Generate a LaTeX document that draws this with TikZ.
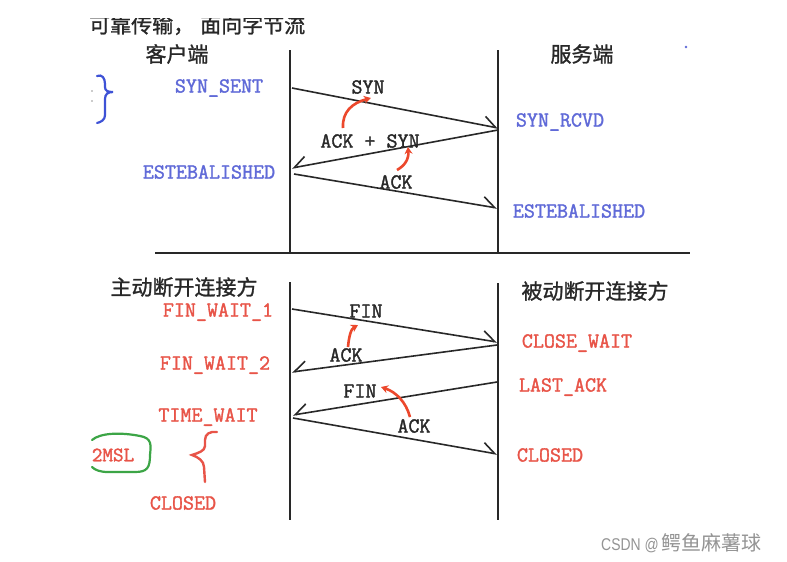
\documentclass[tikz,border=0pt]{standalone}
\usepackage{fontspec}
\usetikzlibrary{arrows.meta}
\newfontfamily\cjk[FakeBold=1.2]{Noto Sans CJK SC}
\newfontfamily\cjkwm{Noto Sans CJK SC}
\newfontfamily\lab[FakeBold=1.6]{Latin Modern Mono}
\newfontfamily\wmfont[FakeStretch=0.82]{Liberation Sans}
\definecolor{lblue}{RGB}{96,106,216}
\definecolor{lred}{RGB}{232,84,72}
\definecolor{arred}{RGB}{236,72,44}
\definecolor{bracebl}{RGB}{62,82,214}
\definecolor{loopgr}{RGB}{60,165,70}
\definecolor{ink}{RGB}{40,40,40}
\tikzset{
  lbl/.style={font=\lab\fontsize{21.4}{21.4}\selectfont, inner sep=0pt},
  blu/.style={lbl, text=lblue},
  rd/.style={lbl, text=lred},
  msg/.style={lbl, text=ink},
  head/.style={font=\cjk\fontsize{21}{21}\selectfont, text=ink, inner sep=0pt},
  life/.style={draw=ink, line width=1.8pt},
  msgR/.style={draw=ink, line width=1.6pt, -{Straight Barb[harpoon,length=12pt,width=18pt,line width=1.6pt]}},
  msgL/.style={draw=ink, line width=1.6pt, -{Straight Barb[harpoon,swap,length=12pt,width=18pt,line width=1.6pt]}},
  redarr/.style={draw=arred, line width=2.6pt, -{Stealth[length=7pt,width=8pt]}},
}
\begin{document}
\begin{tikzpicture}[x=1pt,y=-1pt]
\useasboundingbox (0,0) rectangle (787,562);
\fill[white] (0,0) rectangle (787,562);

% cut-off top line of text
\node[head, font=\cjk\fontsize{21}{21}\selectfont, anchor=west] (toptext) at (89,25) {可靠传输，\hspace{6pt}面向字节流};
\fill[white] (0,0) rectangle (787,18);

% lifelines
\coordinate (cT) at (290,50);  \coordinate (cB) at (290,253);
\coordinate (sT) at (498,50);  \coordinate (sB) at (498,253);
\coordinate (cT2) at (290,282); \coordinate (cB2) at (290,520);
\coordinate (sT2) at (498,283); \coordinate (sB2) at (498,520);
\coordinate (hL) at (155,253); \coordinate (hR) at (690,253);
\draw[life] (cT) -- (cB);
\draw[life] (sT) -- (sB);
\draw[life] (cT2) -- (cB2);
\draw[life] (sT2) -- (sB2);
\draw[life] (hL) -- (hR);

% headings
\node[head] (client) at (177,54) {客户端};
\node[head] (server) at (582,54) {服务端};
\node[head] (active) at (184,287) {主动断开连接方};
\node[head] (passive) at (595,291) {被动断开连接方};
\fill[lblue] (686,47) circle (1.4);

% top states
\node[blu] (synsent) at (219,88) {SYN\_SENT};
\node[blu] (estc) at (209,172) {ESTEBALISHED};
\node[blu] (synrcvd) at (560,122) {SYN\_RCVD};
\node[blu] (ests) at (579,211) {ESTEBALISHED};

% top messages
\coordinate (a1s) at (292,88);  \coordinate (a1e) at (498,128);
\coordinate (a2s) at (498,130); \coordinate (a2e) at (292,168);
\coordinate (a3s) at (294,174); \coordinate (a3e) at (497,208);
\draw[msgR] (a1s) -- (a1e);
\draw[msgL] (a2s) -- (a2e);
\draw[msgR] (a3s) -- (a3e);
\node[msg] (syn) at (368,87) {SYN};
\node[msg] (acksyn) at (370,141) {ACK + SYN};
\node[msg] (ack1) at (396,182) {ACK};

% red hints top
\coordinate (r1s) at (343,128); \coordinate (r1e) at (371,98);
\draw[redarr] (r1s) .. controls (342,112) and (352,103) .. (r1e);
\coordinate (r2s) at (397,170); \coordinate (r2e) at (408,147);
\draw[redarr] (r2s) .. controls (404,166) and (409,160) .. (r2e);

% blue brace
\draw[bracebl, line width=2.2pt, line cap=round]
  (97,76) .. controls (102,74) and (105,78) .. (105,84) -- (105,87)
  .. controls (105,91) and (108,92) .. (113,92)
  .. controls (108,92) and (105,94) .. (105,99) -- (105,115)
  .. controls (105,120) and (101,122) .. (97,123);
\fill[black!40] (92,91) circle (0.9) (92,101) circle (0.9);

% bottom states
\node[rd] (fw1) at (218,312) {FIN\_WAIT\_1};
\node[rd] (fw2) at (215,365) {FIN\_WAIT\_2};
\node[rd] (tw) at (208,417) {TIME\_WAIT};
\node[rd] (closedc) at (183,503) {CLOSED};
\node[rd] (cw) at (577,343) {CLOSE\_WAIT};
\node[rd] (la) at (563,387) {LAST\_ACK};
\node[rd] (closeds) at (550,455) {CLOSED};

% bottom messages
\coordinate (b1s) at (292,309); \coordinate (b1e) at (497,342);
\coordinate (b2s) at (497,345); \coordinate (b2e) at (292,372);
\coordinate (b3s) at (497,382); \coordinate (b3e) at (293,415);
\coordinate (b4s) at (293,418); \coordinate (b4e) at (497,454);
\draw[msgR] (b1s) -- (b1e);
\draw[msgL] (b2s) -- (b2e);
\draw[msgL] (b3s) -- (b3e);
\draw[msgR] (b4s) -- (b4e);
\node[msg] (fin1) at (366,311) {FIN};
\node[msg] (ack2) at (346,355) {ACK};
\node[msg] (fin2) at (360,391) {FIN};
\node[msg] (ack3) at (414,426) {ACK};

% red hints bottom
\coordinate (r3s) at (348,347); \coordinate (r3e) at (358,325);
\draw[redarr] (r3s) .. controls (349,336) and (351,329) .. (r3e);
\coordinate (r4s) at (410,417); \coordinate (r4e) at (381,387);
\draw[redarr] (r4s) .. controls (406,402) and (396,392) .. (r4e);

% red brace
\draw[lred, line width=2.4pt, line cap=round]
  (217,432) .. controls (210,431) and (205,434) .. (205,440) -- (205,446)
  .. controls (205,451) and (198,453) .. (192,455)
  .. controls (198,457) and (204,461) .. (204,467) -- (205,482);

% 2MSL with green loop
\node[rd, font=\lab\fontsize{20.5}{20.5}\selectfont] (msl) at (113,455) {2MSL};
\draw[loopgr, line width=2.2pt, line cap=round]
  (92,440) .. controls (100,433) and (120,432) .. (140,436)
  .. controls (152,438) and (151,445) .. (150,455)
  .. controls (150,468) and (147,472) .. (135,472) -- (108,472)
  .. controls (100,472) and (95,470) .. (92,467);

% watermark
\node[inner sep=0pt, text=black!42, anchor=west] (wm) at (601,543)
  {\wmfont\fontsize{17}{17}\selectfont CSDN @\hspace{3pt}\cjkwm\fontsize{20}{20}\selectfont 鳄鱼麻薯球};
\end{tikzpicture}
\end{document}
